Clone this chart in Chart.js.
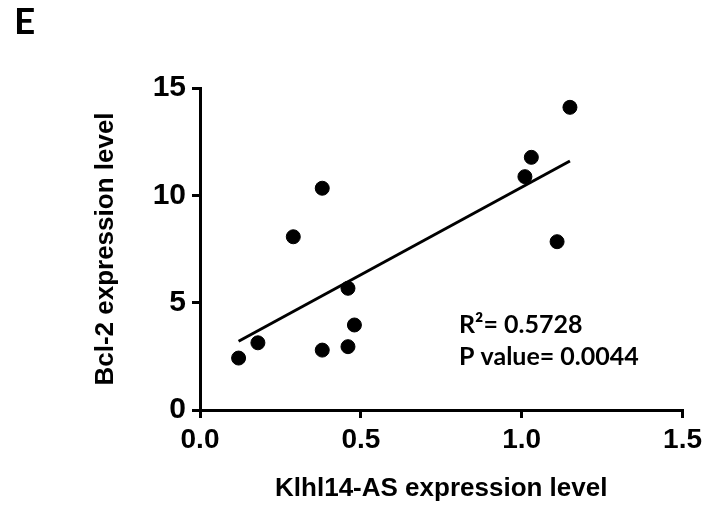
<!DOCTYPE html>
<html>
<head>
<meta charset="utf-8">
<script src="https://cdn.jsdelivr.net/npm/chart.js@4"></script>
<style>
  html, body { margin: 0; padding: 0; background: #fff; }
  #wrap { width: 707px; height: 507px; }
</style>
</head>
<body>
<div id="wrap"><canvas id="scatter" width="707" height="507"></canvas></div>
<script>
// Klhl14-AS vs Bcl-2 (panel E)
const klhl14 = [0.12, 0.18, 0.38, 0.46, 0.48, 0.46, 0.38, 0.29, 1.15, 1.03, 1.01, 1.11];
const bcl2   = [2.42, 3.13, 2.79, 5.67, 3.96, 2.95, 10.33, 8.07, 14.1, 11.77, 10.87, 7.84];

// droite de régression (extrémités)
const fitX = [0.12, 1.15];
const fitY = [3.2, 11.6];

const xTicks = [0, 0.5, 1.0, 1.5];
const yTicks = [0, 5, 10, 15];

const statsText = ['R\u00B2= 0.5728', 'P value= 0.0044'];

const NOIR = '#000';
const AXE_FONT = "'Liberation Sans', Arial, sans-serif";

const annotations = {
  id: 'annotations',
  afterDraw(chart) {
    const ctx = chart.ctx;
    ctx.save();
    ctx.fillStyle = NOIR;
    ctx.textBaseline = 'alphabetic';
    ctx.textAlign = 'left';
    ctx.font = "bold 37px Lato";
    ctx.fillText('E', 14, 34);
    ctx.font = "bold 25px Lato";
    ctx.fillText(statsText[0], 459, 333);
    ctx.fillText(statsText[1], 459, 365);
    ctx.restore();
  }
};

new Chart(document.getElementById('scatter'), {
  type: 'scatter',
  data: {
    datasets: [
      {
        label: 'Samples',
        data: klhl14.map((x, i) => ({ x, y: bcl2[i] })),
        backgroundColor: NOIR,
        borderColor: NOIR,
        pointRadius: 7,
        pointHoverRadius: 7
      },
      {
        type: 'line',
        label: 'Fit',
        data: fitX.map((x, i) => ({ x, y: fitY[i] })),
        borderColor: NOIR,
        borderWidth: 3,
        pointRadius: 0,
        fill: false
      }
    ]
  },
  options: {
    responsive: false,
    animation: false,
    events: [],
    layout: { padding: { left: 0, top: 88, right: 23, bottom: 0 } },
    plugins: { legend: { display: false }, tooltip: { enabled: false } },
    scales: {
      x: {
        type: 'linear',
        min: 0, max: 1.5,
        afterFit: s => { s.height = 97; },
        afterBuildTicks: s => { s.ticks = xTicks.map(v => ({ value: v })); },
        border: { display: true, color: NOIR, width: 3 },
        grid: { drawOnChartArea: false, drawTicks: true, tickLength: 8, color: NOIR, lineWidth: 3 },
        ticks: {
          color: NOIR, padding: 5,
          font: { family: AXE_FONT, size: 28, weight: 'bold' },
          callback: v => v.toFixed(1)
        },
        title: {
          display: true, text: 'Klhl14-AS expression level', color: NOIR,
          font: { family: AXE_FONT, size: 26, weight: 'bold' },
          padding: { top: 0, bottom: 3 }
        }
      },
      y: {
        type: 'linear',
        min: 0, max: 15,
        afterFit: s => { s.width = 200; },
        afterBuildTicks: s => { s.ticks = yTicks.map(v => ({ value: v })); },
        border: { display: true, color: NOIR, width: 3 },
        grid: { drawOnChartArea: false, drawTicks: true, tickLength: 8, color: NOIR, lineWidth: 3 },
        ticks: {
          color: NOIR, padding: 6,
          font: { family: AXE_FONT, size: 30, weight: 'bold' }
        },
        title: {
          display: true, text: 'Bcl-2 expression level', color: NOIR,
          font: { family: AXE_FONT, size: 26, weight: 'bold' },
          padding: { top: 90, bottom: 0 }
        }
      }
    }
  },
  plugins: [annotations]
});
</script>
</body>
</html>
